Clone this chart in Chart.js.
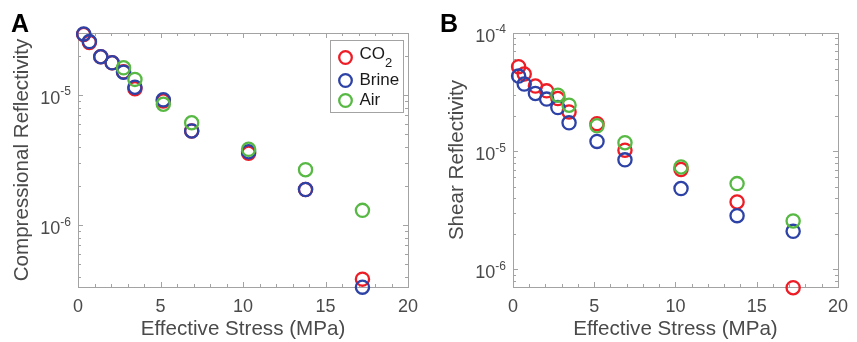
<!DOCTYPE html>
<html>
<head>
<meta charset="utf-8">
<script src="https://cdn.jsdelivr.net/npm/chart.js@4.4.1/dist/chart.umd.min.js"></script>
<style>
  body { margin: 0; background: #fff; }
  #panelA { position: absolute; left: 0; top: 0; }
  #panelB { position: absolute; left: 430px; top: 0; }
</style>
</head>
<body>
<canvas id="panelA" width="430" height="342"></canvas>
<canvas id="panelB" width="427" height="342"></canvas>
<script>
// Datos (esfuerzo efectivo en MPa)
const esfuerzo = [0.345, 0.69, 1.38, 2.07, 2.76, 3.45, 5.17, 6.89, 10.34, 13.79, 17.24];

// Panel A - reflectividad compresional
const compCO2 = [2.92e-5, 2.54e-5, 1.97e-5, 1.77e-5, 1.51e-5, 1.12e-5, 9.0e-6, 5.3e-6, 3.57e-6, 1.88e-6, 3.85e-7];
const compBrine = [2.95e-5, 2.58e-5, 1.97e-5, 1.77e-5, 1.50e-5, 1.15e-5, 9.2e-6, 5.3e-6, 3.67e-6, 1.88e-6, 3.34e-7];
const compAir = [null, null, null, null, 1.62e-5, 1.32e-5, 8.5e-6, 6.13e-6, 3.83e-6, 2.67e-6, 1.30e-6];

// Panel B - reflectividad de cizalla
const shearCO2 = [5.19e-5, 4.5e-5, 3.56e-5, 3.24e-5, 2.79e-5, 2.15e-5, 1.71e-5, 1.02e-5, 7.0e-6, 3.72e-6, 7.0e-7];
const shearBrine = [4.32e-5, 3.7e-5, 3.08e-5, 2.76e-5, 2.34e-5, 1.74e-5, 1.21e-5, 8.45e-6, 4.83e-6, 2.85e-6, 2.1e-6];
const shearAir = [null, null, null, null, 2.98e-5, 2.45e-5, 1.64e-5, 1.18e-5, 7.36e-6, 5.32e-6, 2.57e-6];

const etiquetas = ["CO_2", "Brine", "Air"];
const colores = ["#ee1c25", "#2d42a6", "#57b943"];
const xTicks = [0, 5, 10, 15, 20];

const FUENTE = "'Liberation Sans', Arial, sans-serif";
const GRIS = "#4a4a4a";
const BORDE = "#a3a3a3";

function puntos(ys) {
    return esfuerzo.map((x, i) => ({ x: x, y: ys[i] })).filter(p => p.y !== null);
}

// caja estilo matlab, marcas hacia dentro, etiquetas 10^n y leyenda
const decoracion = {
    id: "decoracion",
    beforeDatasetsDraw(chart, args, opts) {
        const ctx = chart.ctx;
        const a = chart.chartArea;
        const xs = chart.scales.x, ys = chart.scales.y;
        ctx.save();
        ctx.strokeStyle = BORDE;
        ctx.lineWidth = 1;
        ctx.strokeRect(Math.round(a.left) + 0.5, Math.round(a.top) + 0.5,
            Math.round(a.right - a.left), Math.round(a.bottom - a.top));
        ctx.beginPath();
        for (let v = xs.min; v <= xs.max; v++) {
            const px = Math.round(xs.getPixelForValue(v)) + 0.5;
            const l = (v % 5 === 0) ? 5 : 3;
            ctx.moveTo(px, a.bottom); ctx.lineTo(px, a.bottom - l);
            ctx.moveTo(px, a.top); ctx.lineTo(px, a.top + l);
        }
        const d0 = Math.floor(Math.log10(ys.min)), d1 = Math.ceil(Math.log10(ys.max));
        for (let d = d0; d <= d1; d++) {
            for (let m = 1; m <= 9; m++) {
                const v = m * Math.pow(10, d);
                if (v < ys.min * 0.999 || v > ys.max * 1.001) continue;
                const py = Math.round(ys.getPixelForValue(v)) + 0.5;
                const l = (m === 1) ? 5 : 3;
                ctx.moveTo(a.left, py); ctx.lineTo(a.left + l, py);
                ctx.moveTo(a.right, py); ctx.lineTo(a.right - l, py);
            }
        }
        ctx.stroke();

        // etiquetas del eje y
        ctx.fillStyle = GRIS;
        ctx.textBaseline = "middle";
        for (let d = d0; d <= d1; d++) {
            const v = Math.pow(10, d);
            if (v < ys.min * 0.999 || v > ys.max * 1.001) continue;
            const py = ys.getPixelForValue(v);
            const exp = "-" + Math.abs(d);
            ctx.font = "12px " + FUENTE;
            const ew = ctx.measureText(exp).width;
            const bx = a.left - 7 - ew;
            ctx.textAlign = "left";
            ctx.fillText(exp, bx, py - 3);
            ctx.font = "18px " + FUENTE;
            ctx.textAlign = "right";
            ctx.fillText("10", bx, py + 4);
        }
        ctx.restore();
    },
    afterDatasetsDraw(chart, args, opts) {
        const ctx = chart.ctx;
        const a = chart.chartArea;
        ctx.save();
        // letra del panel
        ctx.fillStyle = "#000";
        ctx.font = "bold 25px " + FUENTE;
        ctx.textAlign = "left";
        ctx.textBaseline = "alphabetic";
        ctx.fillText(opts.letra, opts.letraX, 32);

        if (opts.leyenda) {
            const bx = Math.round(a.right - 78) + 0.5, by = Math.round(a.top + 7) + 0.5;
            ctx.fillStyle = "#fff";
            ctx.fillRect(bx, by, 73, 72);
            ctx.strokeStyle = BORDE;
            ctx.lineWidth = 1;
            ctx.strokeRect(bx, by, 73, 72);
            const filas = [17, 40, 60];
            etiquetas.forEach((t, i) => {
                const cy = by + filas[i];
                ctx.strokeStyle = colores[i];
                ctx.lineWidth = 2.3;
                ctx.beginPath();
                ctx.arc(bx + 15, cy, 6.3, 0, Math.PI * 2);
                ctx.stroke();
                ctx.fillStyle = "#1a1a1a";
                ctx.textBaseline = "middle";
                ctx.textAlign = "left";
                const partes = t.split("_");
                ctx.font = "17px " + FUENTE;
                const ty = partes.length > 1 ? cy - 3 : cy;
                ctx.fillText(partes[0], bx + 29, ty);
                if (partes.length > 1) {
                    const w = ctx.measureText(partes[0]).width;
                    ctx.font = "13px " + FUENTE;
                    ctx.fillText(partes[1], bx + 29 + w, ty + 9);
                }
            });
        }
        ctx.restore();
    }
};

function crearPanel(id, series, cfg) {
    const datasets = series.map((ys, i) => ({
        label: etiquetas[i].replace("_", ""),
        data: puntos(ys),
        borderColor: colores[i],
        backgroundColor: "rgba(0,0,0,0)",
        pointBackgroundColor: "rgba(0,0,0,0)",
        pointRadius: 6.6,
        pointBorderWidth: 2.3,
        showLine: false,
        clip: false,
        order: 3 - i
    }));

    const config = {
        type: "scatter",
        data: { datasets: datasets },
        plugins: [decoracion],
        options: {
            responsive: false,
            animation: false,
            events: [],
            layout: { padding: { top: 33, right: cfg.derecha, left: 0, bottom: 0 } },
            plugins: {
                legend: { display: false },
                tooltip: { enabled: false },
                decoracion: { letra: cfg.letra, letraX: cfg.letraX, leyenda: cfg.leyenda }
            },
            scales: {
                x: {
                    type: "linear",
                    min: 0,
                    max: 20,
                    afterBuildTicks: s => { s.ticks = xTicks.map(v => ({ value: v })); },
                    afterFit: s => { s.height = 55; },
                    grid: { display: false, drawTicks: false },
                    border: { display: false },
                    ticks: { color: GRIS, font: { size: 18, family: FUENTE }, padding: 9, maxRotation: 0 },
                    title: {
                        display: true,
                        text: "Effective Stress (MPa)",
                        color: GRIS,
                        font: { size: 20.6, family: FUENTE },
                        padding: { top: 0, bottom: 0 }
                    }
                },
                y: {
                    type: "logarithmic",
                    min: cfg.ymin,
                    max: cfg.ymax,
                    afterFit: s => { s.width = cfg.ancho; },
                    grid: { display: false, drawTicks: false },
                    border: { display: false },
                    ticks: { display: false },
                    title: {
                        display: true,
                        text: cfg.titulo,
                        color: GRIS,
                        font: { size: 20.6, family: FUENTE },
                        padding: { top: cfg.tituloPad, bottom: 0 }
                    }
                }
            }
        }
    };
    new Chart(document.getElementById(id).getContext("2d"), config);
}

crearPanel("panelA", [compCO2, compBrine, compAir], {
    letra: "A", letraX: 11, leyenda: true, derecha: 22, ancho: 78,
    ymin: 3.35e-7, ymax: 3.0e-5, titulo: "Compressional Reflectivity", tituloPad: 10
});
crearPanel("panelB", [shearCO2, shearBrine, shearAir], {
    letra: "B", letraX: 10, leyenda: false, derecha: 13, ancho: 83,
    ymin: 7.1e-7, ymax: 1.0e-4, titulo: "Shear Reflectivity", tituloPad: 15
});
</script>
</body>
</html>
